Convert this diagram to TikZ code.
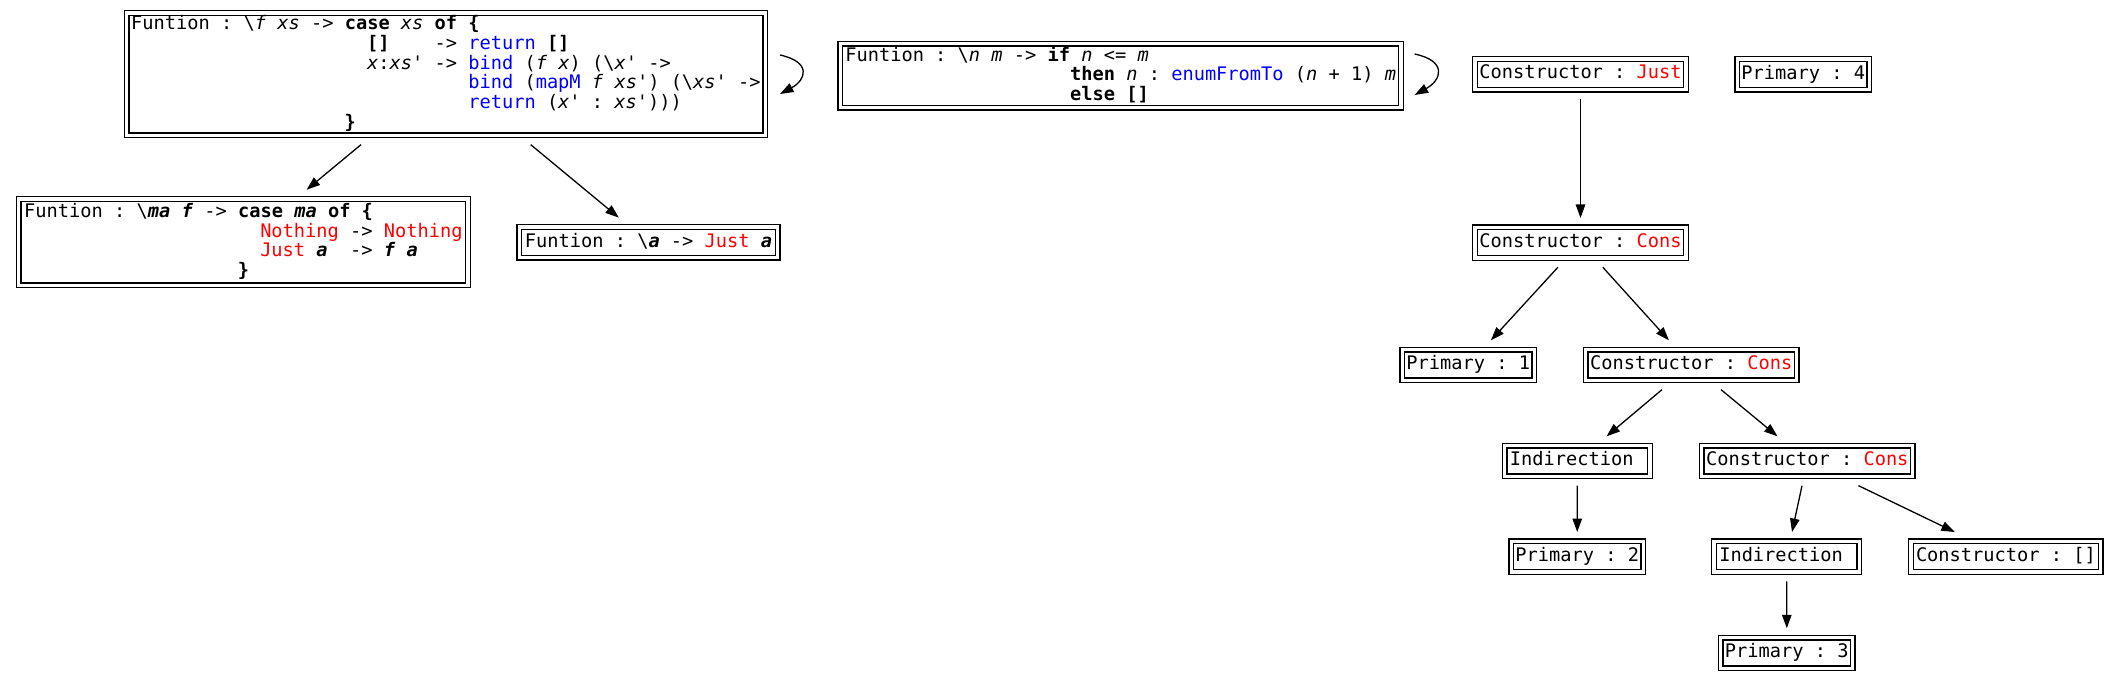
\documentclass[tikz,border=0pt]{standalone}
\usepackage{fontspec}
\setmonofont{DejaVu Sans Mono}
\usetikzlibrary{arrows.meta}
\definecolor{kred}{RGB}{255,0,0}
\definecolor{kblue}{RGB}{0,0,255}
\newcommand\kr[1]{\textcolor{kred}{#1}}
\newcommand\kb[1]{\textcolor{kblue}{#1}}
\newcommand\ki[1]{\textit{#1}}
\newcommand\kbf[1]{\textbf{#1}}
\newcommand\kbi[1]{\textbf{\textit{#1}}}
\newcommand\bsl{\textbackslash}
\newlength\kcw
\setlength\kcw{11.24pt}
\newcommand\pad[1]{\hspace*{#1\kcw}}
\newcommand\ls{\rule[-4.6pt]{0pt}{18.3pt}}
\newcommand\kfont{\ttfamily\fontsize{18.67}{18.3}\selectfont\frenchspacing
  \spaceskip=\kcw\relax\xspaceskip=\kcw\relax}
\tikzset{
  box/.style={draw, double, double distance=3.3pt, line width=1.3pt,
    inner xsep=2pt, inner ysep=2pt, outer xsep=3pt, outer ysep=9.3pt,
    font=\kfont, align=left, anchor=center},
  sbox/.style={box, minimum height=30.7pt},
  edge/.style={draw, line width=1.3pt, -{Triangle[length=13.5pt,width=9.5pt]}},
}
\begin{document}
\begin{tikzpicture}[x=1pt,y=-1pt]
\useasboundingbox (0,0) rectangle (2115,683);
% function nodes
\node[box, minimum width=638.6pt, minimum height=122.3pt] (fmapM) at (445.9,74.2) {%
\ls Funtion : \bsl\ki{f} \ki{xs} -> \kbf{case} \ki{xs} \kbf{of} \kbf{\{}\\
\ls\pad{21}\kbf{[]}\pad{4}-> \kb{return} \kbf{[]}\\
\ls\pad{21}\ki{x}:\ki{xs}' -> \kb{bind} (\ki{f} \ki{x}) (\bsl\ki{x}' ->\\
\ls\pad{30}\kb{bind} (\kb{mapM} \ki{f} \ki{xs}') (\bsl\ki{xs}' ->\\
\ls\pad{30}\kb{return} (\ki{x}' : \ki{xs}')))\\
\ls\pad{19}\kbf{\}}};
\node[box, minimum width=449.3pt, minimum height=86.3pt] (fbind) at (243.4,242.2) {%
\ls Funtion : \bsl\kbi{ma} \kbi{f} -> \kbf{case} \kbi{ma} \kbf{of} \kbf{\{}\\
\ls\pad{21}\kr{Nothing} -> \kr{Nothing}\\
\ls\pad{21}\kr{Just} \kbi{a}\pad{2}-> \kbi{f} \kbi{a}\\
\ls\pad{19}\kbf{\}}};
\node[sbox, minimum width=258.4pt] (fret) at (648.5,242.3) {%
\ls Funtion : \bsl\kbi{a} -> \kr{Just} \kbi{a}};
\node[box, minimum width=560.6pt, minimum height=64pt] (fenum) at (1120.7,75.7) {%
\ls Funtion : \bsl\ki{n} \ki{m} -> \kbf{if} \ki{n} <= \ki{m}\\
\ls\pad{20}\kbf{then} \ki{n} : \kb{enumFromTo} (\ki{n} + 1) \ki{m}\\
\ls\pad{20}\kbf{else} \kbf{[]}};
% heap nodes
\node[sbox, minimum width=211pt] (cjust) at (1580.5,74.3) {\ls Constructor : \kr{Just}};
\node[sbox, minimum width=132pt] (p4) at (1803.3,74.3) {\ls Primary : 4};
\node[sbox, minimum width=211pt] (cons1) at (1580.5,242.6) {\ls Constructor : \kr{Cons}};
\node[sbox, minimum width=132pt] (p1) at (1468.3,365) {\ls Primary : 1};
\node[sbox, minimum width=211pt] (cons2) at (1691.2,365) {\ls Constructor : \kr{Cons}};
\node[sbox, minimum width=145.4pt] (ind1) at (1577.3,461) {\ls Indirection\pad{1}};
\node[sbox, minimum width=211pt] (cons3) at (1807.3,461) {\ls Constructor : \kr{Cons}};
\node[sbox, minimum width=132pt] (p2) at (1577.2,556.7) {\ls Primary : 2};
\node[sbox, minimum width=145.4pt] (ind2) at (1786.7,556.7) {\ls Indirection\pad{1}};
\node[sbox, minimum width=189.7pt] (cnil) at (2005.9,556.7) {\ls Constructor : []};
\node[sbox, minimum width=132pt] (p3) at (1786.8,652.9) {\ls Primary : 3};
% edges
\draw[edge] (fmapM) -- (fbind);
\draw[edge] (fmapM) -- (fret);
\draw[edge] (cjust) -- (cons1);
\draw[edge] (cons1) -- (p1);
\draw[edge] (cons1) -- (cons2);
\draw[edge] (cons2) -- (ind1);
\draw[edge] (cons2) -- (cons3);
\draw[edge] (ind1) -- (p2);
\draw[edge] (cons3) -- (ind2);
\draw[edge] (cons3) -- (cnil);
\draw[edge] (ind2) -- (p3);
% self loops
\coordinate (l1s) at ([shift={(11.8,-19.2)}]fmapM.east);
\coordinate (l1e) at ([shift={(11.8,19.8)}]fmapM.east);
\coordinate (l2s) at ([shift={(10.6,-21.7)}]fenum.east);
\coordinate (l2e) at ([shift={(10.6,19.3)}]fenum.east);
\draw[edge] (l1s) .. controls ([shift={(32,7)}]l1s) and ([shift={(26,-14)}]l1e) .. (l1e);
\draw[edge] (l2s) .. controls ([shift={(33,7)}]l2s) and ([shift={(27,-15)}]l2e) .. (l2e);
\end{tikzpicture}
\end{document}
